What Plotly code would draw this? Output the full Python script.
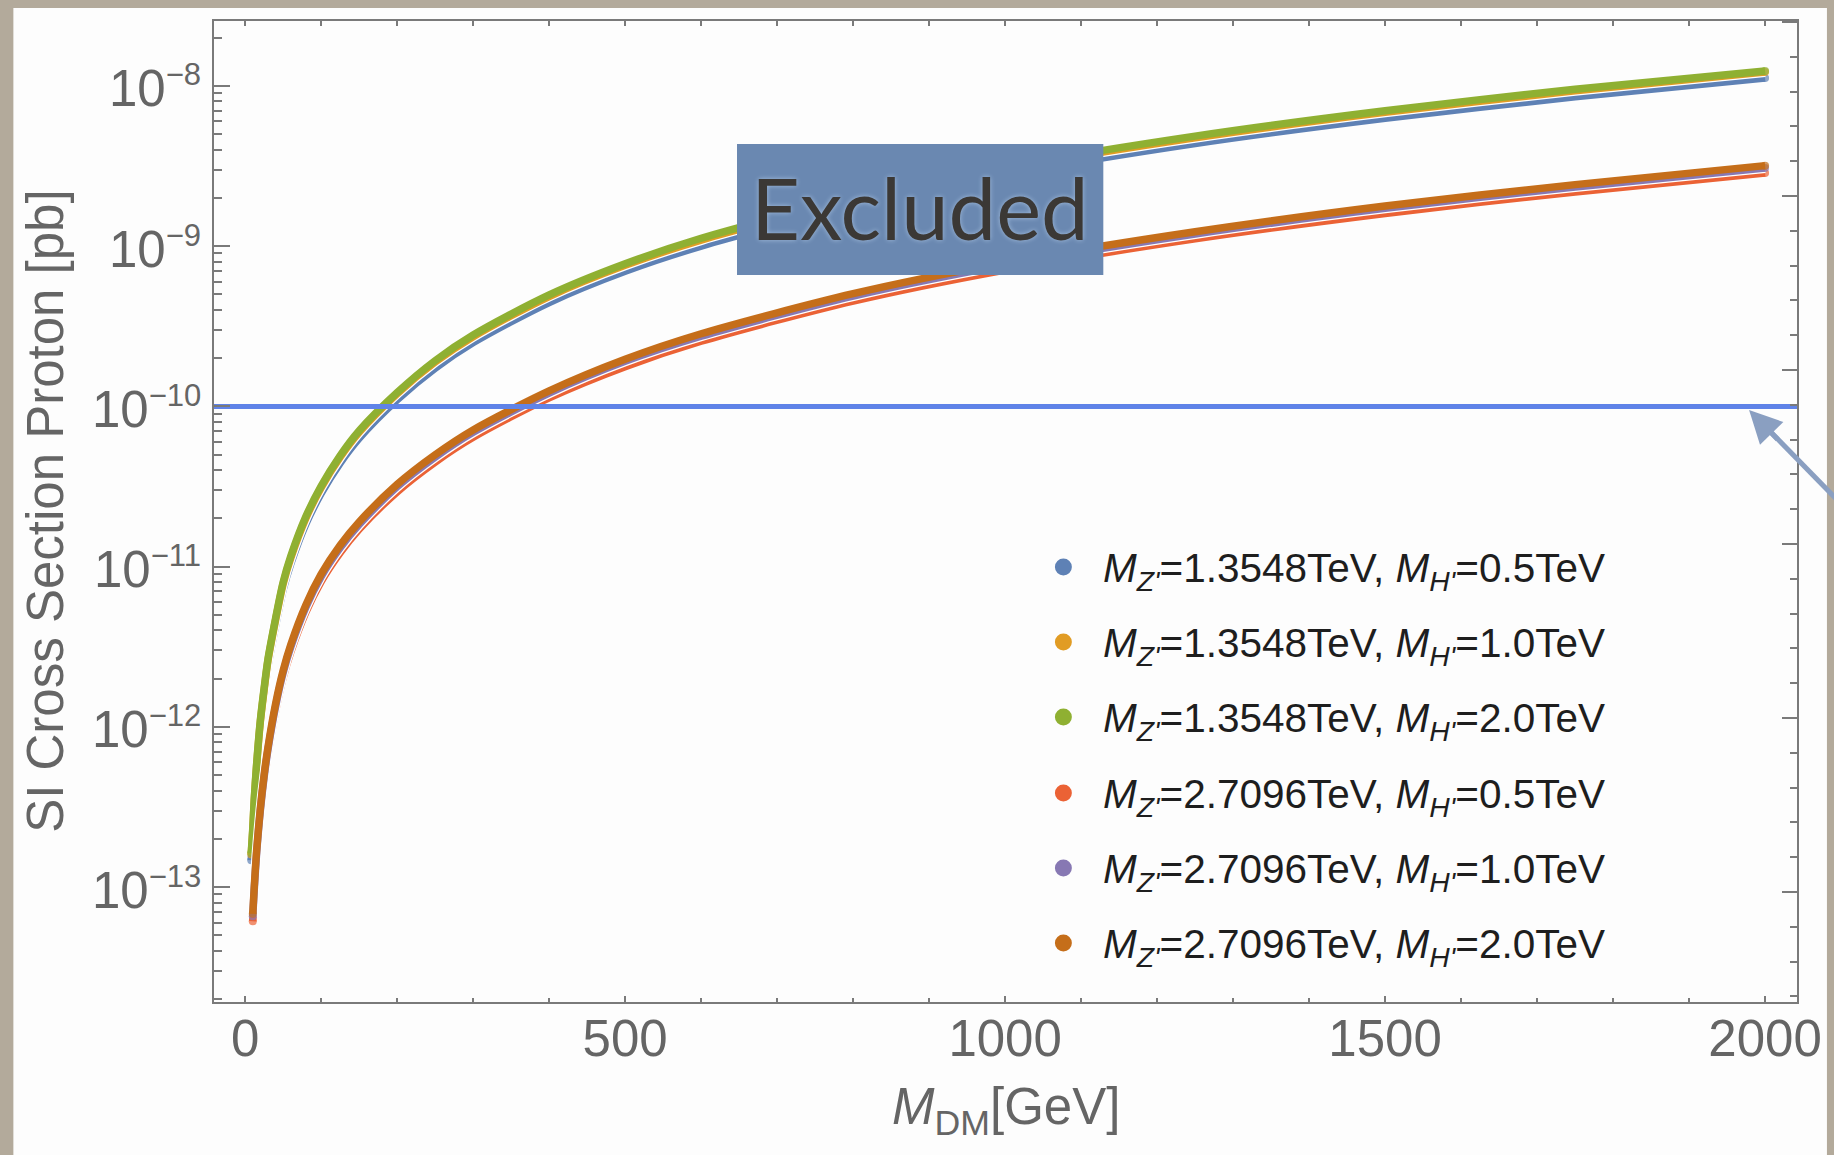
import math
import plotly.graph_objects as go

# Dark-matter mass grids (GeV)
m_dm_z1 = [8, 10, 12, 15, 20, 25, 30, 40, 50, 60, 80, 100, 125, 150, 200, 250,
           300, 400, 500, 600, 800, 1000, 1250, 1500, 1750, 2000]
m_dm_z2 = [10, 12, 15, 20, 25, 30, 40, 50, 60, 80, 100, 125, 150, 200, 250,
           300, 400, 500, 600, 800, 1000, 1250, 1500, 1750, 2000]

# SI cross section on protons [pb], M_Z' = 1.3548 TeV
sigma_z1_h05 = [1.47e-13, 2.07e-13, 3.21e-13, 5.20e-13, 9.91e-13, 1.57e-12, 2.38e-12,
                4.27e-12, 7.18e-12, 1.04e-11, 1.85e-11, 2.86e-11, 4.43e-11, 6.32e-11,
                1.10e-10, 1.73e-10, 2.50e-10, 4.45e-10, 6.97e-10, 1.00e-9, 1.78e-9,
                2.79e-9, 4.37e-9, 6.28e-9, 8.55e-9, 1.12e-8]
sigma_z1_h10 = [1.60e-13, 2.25e-13, 3.49e-13, 5.66e-13, 1.08e-12, 1.71e-12, 2.59e-12,
                4.64e-12, 7.82e-12, 1.13e-11, 2.01e-11, 3.11e-11, 4.82e-11, 6.89e-11,
                1.20e-10, 1.89e-10, 2.72e-10, 4.85e-10, 7.59e-10, 1.09e-9, 1.94e-9,
                3.04e-9, 4.75e-9, 6.84e-9, 9.31e-9, 1.22e-8]
sigma_z1_h20 = [1.63e-13, 2.31e-13, 3.57e-13, 5.79e-13, 1.10e-12, 1.75e-12, 2.65e-12,
                4.75e-12, 8.00e-12, 1.16e-11, 2.06e-11, 3.18e-11, 4.93e-11, 7.05e-11,
                1.22e-10, 1.93e-10, 2.79e-10, 4.96e-10, 7.76e-10, 1.12e-9, 1.99e-9,
                3.11e-9, 4.86e-9, 7.00e-9, 9.53e-9, 1.24e-8]

# SI cross section on protons [pb], M_Z' = 2.7096 TeV
sigma_z2_h05 = [6.12e-14, 9.06e-14, 1.50e-13, 2.80e-13, 4.54e-13, 6.71e-13, 1.25e-12,
                2.03e-12, 2.93e-12, 5.21e-12, 8.07e-12, 1.22e-11, 1.71e-11, 2.93e-11,
                4.49e-11, 6.41e-11, 1.13e-10, 1.77e-10, 2.55e-10, 4.54e-10, 7.10e-10,
                1.11e-9, 1.60e-9, 2.18e-9, 2.86e-9]
sigma_z2_h10 = [6.58e-14, 9.73e-14, 1.61e-13, 3.01e-13, 4.88e-13, 7.21e-13, 1.34e-12,
                2.18e-12, 3.15e-12, 5.60e-12, 8.67e-12, 1.31e-11, 1.83e-11, 3.15e-11,
                4.82e-11, 6.89e-11, 1.21e-10, 1.91e-10, 2.74e-10, 4.88e-10, 7.62e-10,
                1.19e-9, 1.72e-9, 2.34e-9, 3.07e-9]
sigma_z2_h20 = [6.81e-14, 1.01e-13, 1.67e-13, 3.11e-13, 5.05e-13, 7.46e-13, 1.39e-12,
                2.25e-12, 3.26e-12, 5.79e-12, 8.97e-12, 1.36e-11, 1.90e-11, 3.26e-11,
                4.99e-11, 7.13e-11, 1.25e-10, 1.97e-10, 2.84e-10, 5.05e-10, 7.89e-10,
                1.23e-9, 1.78e-9, 2.42e-9, 3.18e-9]

# Experimental bound drawn as a horizontal line [pb]
sigma_limit = 1e-10

series_labels = [
    "<i>M</i><sub><i>Z'</i></sub>=1.3548TeV, <i>M</i><sub><i>H'</i></sub>=0.5TeV",
    "<i>M</i><sub><i>Z'</i></sub>=1.3548TeV, <i>M</i><sub><i>H'</i></sub>=1.0TeV",
    "<i>M</i><sub><i>Z'</i></sub>=1.3548TeV, <i>M</i><sub><i>H'</i></sub>=2.0TeV",
    "<i>M</i><sub><i>Z'</i></sub>=2.7096TeV, <i>M</i><sub><i>H'</i></sub>=0.5TeV",
    "<i>M</i><sub><i>Z'</i></sub>=2.7096TeV, <i>M</i><sub><i>H'</i></sub>=1.0TeV",
    "<i>M</i><sub><i>Z'</i></sub>=2.7096TeV, <i>M</i><sub><i>H'</i></sub>=2.0TeV",
]
series_colors = ["#5e81b5", "#e19c24", "#8fb032", "#eb6235", "#8778b3", "#c56e1a"]
series_cased = [False, True, False, False, True, False]
series_x = [m_dm_z1, m_dm_z1, m_dm_z1, m_dm_z2, m_dm_z2, m_dm_z2]
series_y = [sigma_z1_h05, sigma_z1_h10, sigma_z1_h20, sigma_z2_h05, sigma_z2_h10, sigma_z2_h20]

y_major = [1e-13, 1e-12, 1e-11, 1e-10, 1e-9, 1e-8]
y_major_exp = ["\u221213", "\u221212", "\u221211", "\u221210", "\u22129", "\u22128"]
x_major = [0, 500, 1000, 1500, 2000]
x_range = [-41, 2042]
y_log_range = [-13.717, -7.595]

AX = "#7a7a7a"
LBL = "#656565"
FONT = "Liberation Sans, Arial, sans-serif"

W, H = 1834, 1155
ML, MR, MT, MB = 214, 34, 21, 153
PW, PH = W - ML - MR, H - MT - MB


def px(xp):
    return (xp - ML) / PW


def py(yp):
    return (H - MB - yp) / PH


fig = go.Figure()

for name, xs, ys, col, cased in zip(series_labels, series_x, series_y,
                                    series_colors, series_cased):
    n = len(xs)
    if cased:
        # thin white casing under the middle curve of each bundle
        fig.add_trace(go.Scatter(
            x=xs, y=ys, mode="lines", showlegend=False, hoverinfo="skip",
            line=dict(color="#ffffff", width=10, shape="spline", smoothing=0.8),
        ))
    fig.add_trace(go.Scatter(
        x=xs, y=ys, name=name, mode="lines+markers", showlegend=False,
        line=dict(color=col, width=7.5, shape="spline", smoothing=0.8),
        marker=dict(color=col, size=[8] + [0] * (n - 2) + [8], line=dict(width=0)),
        hoverinfo="skip",
    ))

# exclusion limit across the full frame
fig.add_trace(go.Scatter(
    x=x_range, y=[sigma_limit, sigma_limit], mode="lines", showlegend=False,
    line=dict(color="#5f83e8", width=5), hoverinfo="skip",
))

# carrier for the frame's top and right tick marks
fig.add_trace(go.Scatter(x=[None], y=[None], xaxis="x2", yaxis="y2", showlegend=False))

minor_y = [k * 10.0 ** e for e in range(-14, -7) for k in range(2, 10)]

fig.update_layout(
    width=W, height=H,
    margin=dict(l=ML, r=MR, t=MT, b=MB),
    paper_bgcolor="#b3aa9b",
    plot_bgcolor="#fdfdfd",
    font=dict(family=FONT, color=LBL),
    showlegend=False,
    xaxis=dict(
        range=x_range, showgrid=False, zeroline=False,
        showline=True, linecolor=AX, linewidth=2,
        ticks="inside", tickvals=x_major, ticklen=6, tickwidth=1.5, tickcolor=AX,
        minor=dict(ticks="inside", tickvals=[v for v in range(100, 2000, 100) if v % 500],
                   ticklen=4, tickwidth=1.5, tickcolor=AX),
        tickfont=dict(size=51, color=LBL), ticklabelstandoff=-9,
    ),
    xaxis2=dict(
        overlaying="x", side="top", range=x_range, showgrid=False, zeroline=False,
        showline=True, linecolor=AX, linewidth=2,
        ticks="inside", tickvals=list(range(0, 2001, 100)), ticklen=5, tickwidth=1.5,
        tickcolor=AX, showticklabels=False,
    ),
    yaxis=dict(
        type="log", range=y_log_range, showgrid=False, zeroline=False,
        showline=True, linecolor=AX, linewidth=2,
        ticks="inside", tickvals=y_major, ticklen=16, tickwidth=1.5, tickcolor=AX,
        minor=dict(ticks="inside", tickvals=minor_y, ticklen=8, tickwidth=1.5, tickcolor=AX),
        showticklabels=False,
    ),
    yaxis2=dict(
        overlaying="y", side="right", range=[-0.632, 5.006], showgrid=False, zeroline=False,
        showline=True, linecolor=AX, linewidth=2,
        ticks="inside", tickvals=[0, 1, 2, 3, 4, 5], ticklen=15, tickwidth=1.5, tickcolor=AX,
        minor=dict(ticks="inside", tickvals=[i / 5 for i in range(-3, 25) if i % 5],
                   ticklen=7, tickwidth=1.5, tickcolor=AX),
        showticklabels=False,
    ),
)

head_x, head_y = 1752, 410
tail_x, tail_y = 1900, 561
shapes = [
    # white sheet behind the plot
    dict(type="rect", xref="paper", yref="paper", layer="below",
         x0=px(13), x1=px(1830), y0=py(1200), y1=py(8),
         fillcolor="#fdfdfd", line=dict(width=0)),
    # "Excluded" label box
    dict(type="rect", xref="paper", yref="paper", layer="above",
         x0=px(738), x1=px(1105), y0=py(275), y1=py(144),
         fillcolor="#6a88b1", line=dict(width=0)),
    # shaft of the pointer to the limit line
    dict(type="line", xref="paper", yref="paper", layer="above",
         x0=px(head_x + 12), y0=py(head_y + 12), x1=px(tail_x), y1=py(tail_y),
         line=dict(color="#8a9fc1", width=5)),
]

# legend markers
leg_rows = [567, 642, 717, 793, 868, 943]
r = 8.5
for yrow, col in zip(leg_rows, series_colors):
    shapes.append(dict(type="circle", xref="paper", yref="paper", layer="above",
                       x0=px(1065 - r), x1=px(1065 + r), y0=py(yrow + r), y1=py(yrow - r),
                       fillcolor=col, line=dict(width=0)))

annotations = [
    dict(text="Excluded", xref="paper", yref="paper", x=px(921.5), y=py(207.5),
         xanchor="center", yanchor="middle", showarrow=False,
         font=dict(family="Lato, sans-serif", size=85, color="#3b3835",
                   shadow="0px 0px 5px rgba(170,195,225,0.9)")),
    dict(text="SI Cross Section Proton [pb]", xref="paper", yref="paper",
         x=px(45), y=0.5, xanchor="center", yanchor="middle", textangle=-90,
         showarrow=False, font=dict(size=51, color=LBL)),
    dict(text="<i>M</i><sub>DM</sub>[GeV]", xref="paper", yref="paper",
         x=0.5, y=py(1110), xanchor="center", yanchor="middle",
         showarrow=False, font=dict(size=51, color=LBL)),
    # arrow head of the pointer
    dict(text="", xref="paper", yref="paper", x=px(head_x), y=py(head_y),
         ax=30, ay=31, axref="pixel", ayref="pixel", showarrow=True,
         arrowhead=2, arrowsize=1.3, arrowwidth=5, arrowcolor="#8a9fc1", standoff=0),
]

# y tick labels, right-aligned next to the frame
y_span = y_log_range[1] - y_log_range[0]
for v, ex in zip(y_major, y_major_exp):
    yp = (math.log10(v) - y_log_range[0]) / y_span - 1.5 / PH
    txt = "10<sup><span style='font-size:31px'>" + ex + "</span></sup>"
    annotations.append(dict(text=txt, xref="paper", yref="paper", x=px(203), y=yp,
                            xanchor="right", yanchor="middle", showarrow=False,
                            font=dict(size=51, color=LBL)))

for yrow, lab in zip(leg_rows, series_labels):
    annotations.append(dict(text=lab, xref="paper", yref="paper", x=px(1103), y=py(yrow + 4),
                            xanchor="left", yanchor="middle", showarrow=False,
                            font=dict(size=40.5, color="#1e1e1e")))

fig.update_layout(shapes=shapes, annotations=annotations)

fig.write_html("out.html")
